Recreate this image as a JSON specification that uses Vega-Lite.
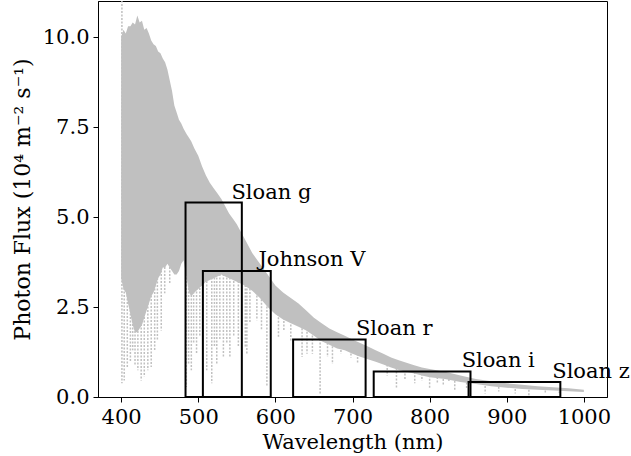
{
  "$schema": "https://vega.github.io/schema/vega-lite/v6.json",
  "autosize": {"type": "none"},
  "padding": {"left": 98, "top": 1, "right": 24, "bottom": 59},
  "width": 509,
  "height": 396,
  "background": "white",
  "config": {
    "view": {"stroke": "black", "strokeWidth": 1},
    "axis": {
      "labelFont": "DejaVu Serif", "labelFontSize": 21, "labelColor": "black",
      "titleFont": "DejaVu Serif", "titleFontSize": 21, "titleFontWeight": "normal", "titleColor": "black",
      "tickColor": "black", "domainColor": "black", "tickSize": 5, "labelPadding": 4, "grid": false
    }
  },
  "datasets": {
    "spec": [
      {"wl": 400, "u": 10.0, "l": 3.3}, {"wl": 403, "u": 10.2, "l": 3.0}, {"wl": 406, "u": 10.1, "l": 2.9},
      {"wl": 409, "u": 10.3, "l": 2.6}, {"wl": 412, "u": 10.3, "l": 2.3}, {"wl": 415, "u": 10.4, "l": 2.0},
      {"wl": 418, "u": 10.35, "l": 1.8}, {"wl": 421, "u": 10.6, "l": 1.8}, {"wl": 424, "u": 10.4, "l": 1.9},
      {"wl": 427, "u": 10.45, "l": 2.0}, {"wl": 430, "u": 10.2, "l": 2.2}, {"wl": 433, "u": 10.25, "l": 2.4},
      {"wl": 436, "u": 10.1, "l": 2.6}, {"wl": 439, "u": 9.9, "l": 2.8}, {"wl": 442, "u": 9.8, "l": 2.9},
      {"wl": 445, "u": 9.75, "l": 3.1}, {"wl": 448, "u": 9.6, "l": 3.3}, {"wl": 451, "u": 9.55, "l": 3.4},
      {"wl": 454, "u": 9.4, "l": 3.6}, {"wl": 457, "u": 9.3, "l": 3.6}, {"wl": 460, "u": 9.1, "l": 3.7},
      {"wl": 463, "u": 8.8, "l": 3.6}, {"wl": 466, "u": 8.5, "l": 3.5}, {"wl": 469, "u": 8.1, "l": 3.4},
      {"wl": 472, "u": 7.9, "l": 3.4}, {"wl": 475, "u": 7.7, "l": 3.5}, {"wl": 478, "u": 7.6, "l": 3.7},
      {"wl": 481, "u": 7.45, "l": 3.8}, {"wl": 485, "u": 7.3, "l": 3.3}, {"wl": 488, "u": 7.2, "l": 2.9},
      {"wl": 491, "u": 7.1, "l": 2.8}, {"wl": 495, "u": 6.9, "l": 2.9}, {"wl": 500, "u": 6.7, "l": 3.0},
      {"wl": 505, "u": 6.4, "l": 3.1}, {"wl": 510, "u": 6.15, "l": 3.2}, {"wl": 515, "u": 5.95, "l": 3.25},
      {"wl": 520, "u": 5.8, "l": 3.3}, {"wl": 525, "u": 5.65, "l": 3.35}, {"wl": 530, "u": 5.5, "l": 3.4},
      {"wl": 535, "u": 5.3, "l": 3.35}, {"wl": 540, "u": 5.1, "l": 3.3}, {"wl": 545, "u": 4.95, "l": 3.25},
      {"wl": 550, "u": 4.8, "l": 3.2}, {"wl": 555, "u": 4.6, "l": 3.15},
      {"wl": 560, "u": 4.4, "l": 3.1}, {"wl": 570, "u": 4.0, "l": 2.95}, {"wl": 580, "u": 3.7, "l": 2.75},
      {"wl": 590, "u": 3.4, "l": 2.5}, {"wl": 600, "u": 3.1, "l": 2.3}, {"wl": 610, "u": 2.9, "l": 2.15},
      {"wl": 620, "u": 2.75, "l": 2.05}, {"wl": 630, "u": 2.6, "l": 1.95}, {"wl": 640, "u": 2.4, "l": 1.85},
      {"wl": 650, "u": 2.2, "l": 1.7}, {"wl": 660, "u": 2.05, "l": 1.55}, {"wl": 670, "u": 1.9, "l": 1.45},
      {"wl": 680, "u": 1.8, "l": 1.35}, {"wl": 690, "u": 1.7, "l": 1.3}, {"wl": 700, "u": 1.6, "l": 1.2},
      {"wl": 710, "u": 1.5, "l": 1.12}, {"wl": 720, "u": 1.4, "l": 1.05}, {"wl": 730, "u": 1.3, "l": 0.98},
      {"wl": 740, "u": 1.2, "l": 0.9}, {"wl": 750, "u": 1.1, "l": 0.82}, {"wl": 760, "u": 1.02, "l": 0.75},
      {"wl": 770, "u": 0.95, "l": 0.7}, {"wl": 780, "u": 0.88, "l": 0.65}, {"wl": 790, "u": 0.82, "l": 0.6},
      {"wl": 800, "u": 0.78, "l": 0.55}, {"wl": 820, "u": 0.7, "l": 0.5}, {"wl": 840, "u": 0.6, "l": 0.42},
      {"wl": 860, "u": 0.5, "l": 0.36}, {"wl": 880, "u": 0.44, "l": 0.3}, {"wl": 900, "u": 0.38, "l": 0.26},
      {"wl": 920, "u": 0.34, "l": 0.22}, {"wl": 940, "u": 0.3, "l": 0.2}, {"wl": 960, "u": 0.27, "l": 0.18},
      {"wl": 980, "u": 0.24, "l": 0.16}, {"wl": 1000, "u": 0.2, "l": 0.14}
    ],
    "lines": [
      {"wl": 401, "top": 11.5, "bot": 0.38}, {"wl": 404, "top": 4, "bot": 0.46}, {"wl": 408, "top": 4, "bot": 0.83},
      {"wl": 412, "top": 3, "bot": 1.0}, {"wl": 415, "top": 3, "bot": 1.3}, {"wl": 418, "top": 3, "bot": 0.9},
      {"wl": 421.7, "top": 3, "bot": 0.74}, {"wl": 426, "top": 3, "bot": 0.46},
      {"wl": 430, "top": 3, "bot": 0.56}, {"wl": 434.6, "top": 3, "bot": 0.74}, {"wl": 439, "top": 3.5, "bot": 0.83},
      {"wl": 443.5, "top": 3.5, "bot": 1.3}, {"wl": 447, "top": 3.5, "bot": 1.6}, {"wl": 452, "top": 4, "bot": 1.85},
      {"wl": 456.5, "top": 4, "bot": 2.88}, {"wl": 463, "top": 4, "bot": 3.15},
      {"wl": 484.5, "top": 4, "bot": 0.28}, {"wl": 487.5, "top": 4, "bot": 0.9}, {"wl": 491, "top": 4, "bot": 0.74},
      {"wl": 494, "top": 4, "bot": 1.5}, {"wl": 497.8, "top": 4, "bot": 1.2}, {"wl": 502, "top": 4, "bot": 1.7},
      {"wl": 511, "top": 4, "bot": 0.74}, {"wl": 517.5, "top": 4, "bot": 0.38}, {"wl": 521, "top": 4, "bot": 1.4},
      {"wl": 524, "top": 4, "bot": 0.93}, {"wl": 528, "top": 4, "bot": 1.6}, {"wl": 532.6, "top": 4, "bot": 1.1},
      {"wl": 537, "top": 4, "bot": 1.5}, {"wl": 541, "top": 4, "bot": 1.1}, {"wl": 546, "top": 4, "bot": 1.7},
      {"wl": 552, "top": 4, "bot": 1.39}, {"wl": 561, "top": 3.5, "bot": 1.39}, {"wl": 563, "top": 3.5, "bot": 1.2},
      {"wl": 567, "top": 3.5, "bot": 2.04}, {"wl": 576, "top": 3.5, "bot": 2.13}, {"wl": 582, "top": 3.2, "bot": 1.85},
      {"wl": 589, "top": 3.0, "bot": 0.28}, {"wl": 604, "top": 2.8, "bot": 1.67}, {"wl": 611, "top": 2.6, "bot": 1.85},
      {"wl": 620, "top": 2.5, "bot": 1.57}, {"wl": 634.6, "top": 2.3, "bot": 1.11}, {"wl": 641, "top": 2.2, "bot": 1.2},
      {"wl": 648, "top": 2.1, "bot": 1.2}, {"wl": 658, "top": 2.0, "bot": 0.1}, {"wl": 667.6, "top": 1.8, "bot": 1.11},
      {"wl": 674, "top": 1.7, "bot": 0.92}, {"wl": 685, "top": 1.6, "bot": 1.2}, {"wl": 698, "top": 1.5, "bot": 1.1},
      {"wl": 706.6, "top": 1.4, "bot": 0.92}, {"wl": 745, "top": 1.0, "bot": 0.6}, {"wl": 757, "top": 0.9, "bot": 0.24},
      {"wl": 768, "top": 0.85, "bot": 0.5}, {"wl": 780.7, "top": 0.8, "bot": 0.38}, {"wl": 790, "top": 0.75, "bot": 0.45},
      {"wl": 800, "top": 0.7, "bot": 0.24}, {"wl": 810, "top": 0.65, "bot": 0.4}, {"wl": 817.7, "top": 0.6, "bot": 0.33},
      {"wl": 825, "top": 0.6, "bot": 0.42}, {"wl": 832.6, "top": 0.55, "bot": 0.19}, {"wl": 848, "top": 0.5, "bot": 0.24},
      {"wl": 872, "top": 0.4, "bot": 0.1}, {"wl": 889.6, "top": 0.38, "bot": 0.15}, {"wl": 911, "top": 0.32, "bot": 0.1},
      {"wl": 928.7, "top": 0.3, "bot": 0.05}, {"wl": 950, "top": 0.28, "bot": 0.1}, {"wl": 968, "top": 0.25, "bot": 0.12}
    ],
    "filters": [
      {"name": "Sloan g", "lo": 483.5, "hi": 556.5, "h": 5.4, "lx": 543, "ly": 5.5},
      {"name": "Johnson V", "lo": 506, "hi": 594, "h": 3.5, "lx": 578, "ly": 3.63},
      {"name": "Sloan r", "lo": 623, "hi": 717, "h": 1.6, "lx": 704.5, "ly": 1.71},
      {"name": "Sloan i", "lo": 727.5, "hi": 853, "h": 0.71, "lx": 841.5, "ly": 0.84},
      {"name": "Sloan z", "lo": 850.5, "hi": 969.5, "h": 0.42, "lx": 959, "ly": 0.52}
    ]
  },
  "encoding": {
    "x": {"type": "quantitative", "scale": {"domain": [370, 1030], "nice": false, "zero": false},
          "axis": {"title": "Wavelength (nm)", "values": [400, 500, 600, 700, 800, 900, 1000], "format": "d", "titlePadding": 4}},
    "y": {"type": "quantitative", "scale": {"domain": [0, 11], "nice": false},
          "axis": {"title": "Photon Flux (10⁴ m⁻² s⁻¹)", "titleFontSize": 22, "values": [0, 2.5, 5, 7.5, 10], "format": ".1f", "titlePadding": 8}}
  },
  "layer": [
    {
      "data": {"name": "spec"},
      "mark": {"type": "area", "color": "#c0c0c0", "clip": true},
      "encoding": {"x": {"field": "wl"}, "y": {"field": "u"}, "y2": {"field": "l"}}
    },
    {
      "data": {"name": "lines"},
      "mark": {"type": "rule", "color": "#c0c0c0", "strokeWidth": 1.5, "strokeDash": [2, 1.5], "clip": true},
      "encoding": {"x": {"field": "wl"}, "y": {"field": "top"}, "y2": {"field": "bot"}}
    },
    {
      "data": {"name": "filters"},
      "mark": {"type": "rect", "fill": null, "fillOpacity": 0, "stroke": "black", "strokeWidth": 2},
      "encoding": {"x": {"field": "lo"}, "x2": {"field": "hi"}, "y": {"field": "h"}, "y2": {"datum": 0}}
    },
    {
      "data": {"name": "filters"},
      "mark": {"type": "text", "align": "left", "baseline": "alphabetic", "font": "DejaVu Serif", "fontSize": 21, "color": "black"},
      "encoding": {"x": {"field": "lx"}, "y": {"field": "ly"}, "text": {"field": "name"}}
    }
  ]
}
